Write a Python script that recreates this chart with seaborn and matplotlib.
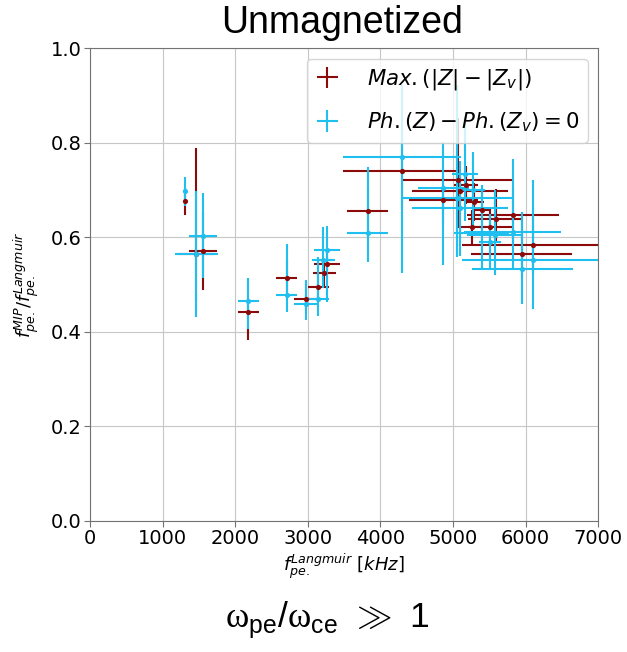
import numpy as np
import pandas as pd
import matplotlib
matplotlib.use("Agg")
import matplotlib.pyplot as plt
import seaborn as sns

# Max.(|Z|-|Zv|) estimates
x_max = [1309, 1461, 1557, 2182, 2709, 2971, 3146, 3225, 3266, 3826, 4295, 4868,
         5075, 5098, 5181, 5296, 5397, 5259, 5512, 5590, 5824, 5948, 6100]
y_max = [0.677, 0.565, 0.571, 0.443, 0.514, 0.469, 0.495, 0.525, 0.544, 0.655, 0.741, 0.679,
         0.722, 0.698, 0.710, 0.675, 0.657, 0.621, 0.622, 0.638, 0.647, 0.564, 0.583]
xerr_max = [20, 250, 190, 145, 147, 160, 145, 158, 177, 282, 815, 470,
            760, 665, 165, 127, 100, 200, 300, 380, 630, 695, 970]
ylo_max = [0.03, 0.10, 0.083, 0.06, 0.04, 0.03, 0.03, 0.03, 0.03, 0.05, 0.08, 0.05,
           0.10, 0.04, 0.04, 0.04, 0.04, 0.04, 0.04, 0.05, 0.06, 0.05, 0.06]
yhi_max = [0.03, 0.225, 0.083, 0.03, 0.04, 0.038, 0.03, 0.03, 0.03, 0.05, 0.08, 0.05,
           0.13, 0.04, 0.04, 0.04, 0.04, 0.037, 0.04, 0.064, 0.06, 0.08, 0.06]

# Ph.(Z)-Ph.(Zv)=0 estimates
x_ph = [1309, 1461, 1557, 2182, 2709, 2971, 3146, 3215, 3266, 3826, 4295, 4868,
        5058, 5098, 5167, 5282, 5397, 5512, 5581, 5824, 5956, 6100]
y_ph = [0.697, 0.565, 0.603, 0.465, 0.478, 0.459, 0.469, 0.552, 0.573, 0.610, 0.769, 0.705,
        0.684, 0.661, 0.735, 0.700, 0.610, 0.590, 0.605, 0.612, 0.533, 0.552]
xerr_ph = [25, 296, 190, 145, 147, 160, 145, 158, 177, 282, 810, 350,
           760, 665, 180, 160, 380, 150, 390, 666, 695, 980]
ylo_ph = [0.03, 0.134, 0.09, 0.058, 0.035, 0.034, 0.036, 0.06, 0.11, 0.062, 0.245, 0.164,
          0.125, 0.10, 0.10, 0.08, 0.08, 0.06, 0.085, 0.081, 0.073, 0.104]
yhi_ph = [0.03, 0.134, 0.09, 0.049, 0.107, 0.05, 0.09, 0.07, 0.05, 0.139, 0.153, 0.097,
          0.238, 0.10, 0.12, 0.08, 0.10, 0.06, 0.095, 0.153, 0.12, 0.17]

red = "#8b0a0a"
cyan = "#1fbff0"

df_max = pd.DataFrame({"f": x_max, "ratio": y_max})
df_ph = pd.DataFrame({"f": x_ph, "ratio": y_ph})

sns.set_style("whitegrid", {"axes.edgecolor": "0.45", "grid.color": "0.78",
                            "text.color": "black", "xtick.color": "black",
                            "ytick.color": "black", "axes.labelcolor": "black"})
plt.rcParams["font.family"] = ["DejaVu Sans"]
plt.rcParams["mathtext.fontset"] = "dejavusans"
# fonts for the bottom caption (custom math font family)
plt.rcParams["mathtext.rm"] = "Liberation Sans"
plt.rcParams["mathtext.sf"] = "Liberation Serif"

fig = plt.figure(figsize=(6.27, 6.52), dpi=100)
ax = fig.add_axes([0.1435, 0.201, 0.8105, 0.725])

e1 = ax.errorbar(x_max, y_max, xerr=xerr_max, yerr=[ylo_max, yhi_max], fmt="none",
                 ecolor=red, elinewidth=1.5, capsize=0, zorder=2,
                 label=r"$Max.(|Z|-|Z_v|)$")
e2 = ax.errorbar(x_ph, y_ph, xerr=xerr_ph, yerr=[ylo_ph, yhi_ph], fmt="none",
                 ecolor=cyan, elinewidth=1.5, capsize=0, zorder=3,
                 label=r"$Ph.(Z)-Ph.(Z_v)=0$")
sns.scatterplot(data=df_max, x="f", y="ratio", color=red, s=14, linewidth=0,
                ax=ax, zorder=4, legend=False)
sns.scatterplot(data=df_ph, x="f", y="ratio", color=cyan, s=14, linewidth=0,
                ax=ax, zorder=5, legend=False)

ax.set_xlim(0, 7000)
ax.set_ylim(0, 1.0)
ax.set_xticks(np.arange(0, 7001, 1000))
ax.set_yticks(np.arange(0, 1.01, 0.2))
ax.tick_params(axis="both", labelsize=14, bottom=True, left=True, length=4,
               color="0.45", pad=2)
ax.set_xlabel(r"$f_{pe.}^{Langmuir}$ $[kHz]$", fontsize=13, labelpad=2)
ax.set_ylabel(r"$f_{pe.}^{MIP}/f_{pe.}^{Langmuir}$", fontsize=13, labelpad=7)

leg = ax.legend(handles=[e1, e2], loc="upper right", fontsize=15.3, framealpha=0.8,
                handlelength=1.1, handletextpad=1.3, labelspacing=0.85,
                borderpad=0.4, borderaxespad=0.5)

fig.text(0.545, 0.964, "Unmagnetized", ha="center", va="center", fontsize=27,
         color="black", family=["Liberation Sans"])
fig.text(0.522, 0.048,
         r"$\mathsf{\omega}_{\mathrm{pe}}\mathrm{/}\mathsf{\omega}_{\mathrm{ce}}\ \gg\ \mathrm{1}$",
         ha="center", va="center", fontsize=25.5, color="black", math_fontfamily="custom")

fig.savefig("out.png", dpi=100)
